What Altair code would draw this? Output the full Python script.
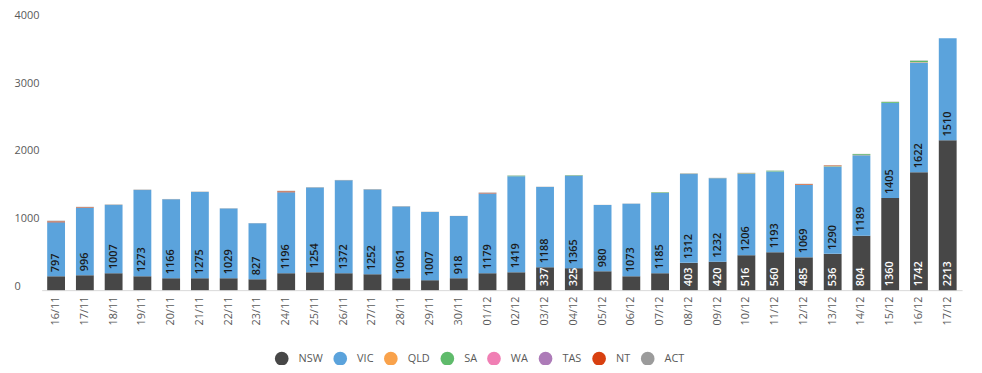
import altair as alt
import pandas as pd

dates = ["16/11", "17/11", "18/11", "19/11", "20/11", "21/11", "22/11", "23/11",
         "24/11", "25/11", "26/11", "27/11", "28/11", "29/11", "30/11", "01/12",
         "02/12", "03/12", "04/12", "05/12", "06/12", "07/12", "08/12", "09/12",
         "10/12", "11/12", "12/12", "13/12", "14/12", "15/12", "16/12", "17/12"]

nsw = [205, 220, 250, 205, 176, 176, 176, 161, 250, 264, 250, 235, 176, 147, 176, 250,
       264, 337, 325, 279, 205, 250, 403, 420, 516, 560, 485, 536, 804, 1360, 1742, 2213]
vic = [797, 996, 1007, 1273, 1166, 1275, 1029, 827, 1196, 1254, 1372, 1252, 1061, 1007, 918, 1179,
       1419, 1188, 1365, 980, 1073, 1185, 1312, 1232, 1206, 1193, 1069, 1290, 1189, 1405, 1622, 1510]
qld = [0, 1, 0, 0, 0, 0, 0, 0, 0, 0, 0, 0, 0, 0, 0, 0,
       0, 0, 0, 0, 0, 0, 1, 0, 6, 1, 2, 5, 3, 2, 6, 0]
sa = [0, 0, 0, 0, 0, 0, 0, 0, 0, 0, 0, 0, 0, 0, 0, 0,
      8, 0, 7, 0, 0, 9, 2, 1, 3, 10, 2, 4, 13, 13, 18, 0]
wa = [0] * 32
tas = [0] * 32
nt = [14, 8, 0, 0, 0, 0, 0, 0, 14, 0, 0, 0, 0, 0, 0, 8,
      0, 0, 0, 0, 0, 0, 0, 0, 0, 0, 9, 7, 0, 0, 0, 0]
act = [10, 6, 8, 7, 5, 5, 4, 3, 8, 6, 6, 7, 6, 4, 3, 5,
       3, 3, 4, 2, 3, 3, 7, 6, 3, 3, 4, 3, 4, 4, 5, 0]

states = ["NSW", "VIC", "QLD", "SA", "WA", "TAS", "NT", "ACT"]
colors = ["#474747", "#5ba3dc", "#f9a24b", "#5fbb6b", "#f07fb4", "#ad7bb8", "#d84010", "#9b9b9b"]
series = [nsw, vic, qld, sa, wa, tas, nt, act]
y_ticks = [0, 500, 1000, 1500, 2000, 2500, 3000, 3500, 4000]

rows = []
for si, (st, vals) in enumerate(zip(states, series)):
    for d, v in zip(dates, vals):
        rows.append({"date": d, "state": st, "value": v, "idx": si})
df = pd.DataFrame(rows)

lab_rows = []
for d, n, v in zip(dates, nsw, vic):
    if n >= 300:
        lab_rows.append({"date": d, "base": 0, "label": str(n), "kind": "NSW"})
    lab_rows.append({"date": d, "base": n, "label": str(v), "kind": "VIC"})
labels = pd.DataFrame(lab_rows)

FONT = "Open Sans"

x_enc = alt.X("date:N", sort=dates, title=None,
              scale=alt.Scale(paddingInner=0.38, paddingOuter=0.19),
              axis=alt.Axis(labelAngle=-90, ticks=False, tickSize=0, labelPadding=6,
                            domainColor="#d9d9d9", domainWidth=1, grid=False))

bars = alt.Chart(df).mark_bar().encode(
    x=x_enc,
    y=alt.Y("value:Q", stack="zero", title=None,
            scale=alt.Scale(domain=[0, 4000], nice=False),
            axis=alt.Axis(values=y_ticks, format="d", domain=False, ticks=False, tickSize=0,
                          grid=False, labelAlign="left", labelPadding=28, labelOffset=-4,
                          labelOverlap=False, labelBaseline="middle")),
    color=alt.Color("state:N", sort=states,
                    scale=alt.Scale(domain=states, range=colors),
                    legend=alt.Legend(orient="none", legendX=235, legendY=335,
                                      direction="horizontal", columns=8, title=None,
                                      symbolType="circle", symbolSize=190,
                                      symbolStrokeWidth=0, labelOffset=10,
                                      columnPadding=10, padding=0,
                                      labelFont=FONT, labelFontSize=11,
                                      labelColor="#595959")),
    order=alt.Order("idx:Q", sort="ascending"),
)

text = alt.Chart(labels).mark_text(angle=270, align="left", baseline="middle", dx=4,
                                   font=FONT, fontSize=11, fontWeight=600).encode(
    x=alt.X("date:N", sort=dates),
    y=alt.Y("base:Q"),
    text="label:N",
    color=alt.Color("kind:N", scale=alt.Scale(domain=["NSW", "VIC"], range=["#ffffff", "#1a1a1a"]),
                    legend=None),
)

chart = alt.layer(bars, text).resolve_scale(color="independent").properties(
    width=928, height=273,
    autosize=alt.AutoSizeParams(type="none"),
    padding={"left": 34, "top": 10, "right": 12, "bottom": 74},
).configure_view(stroke=None).configure_axis(
    labelFont=FONT, labelFontSize=11, labelColor="#595959"
)

chart.save("out.html", embed_options={"renderer": "svg", "actions": False})
